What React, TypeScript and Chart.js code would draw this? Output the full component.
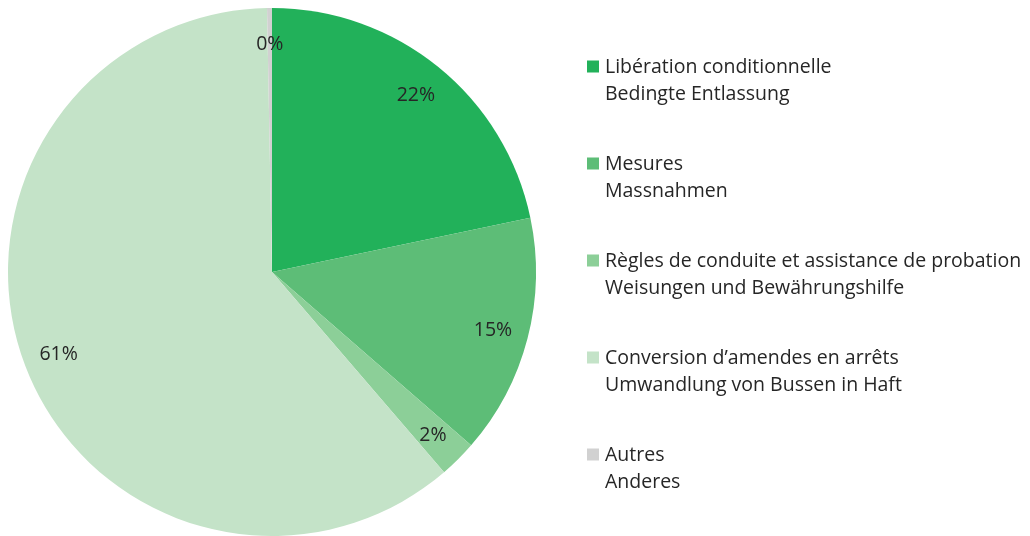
import React, { useEffect, useRef } from "react";
import { Chart, registerables } from "chart.js";

Chart.register(...registerables);

const frLabels = [
  "Libération conditionnelle",
  "Mesures",
  "Règles de conduite et assistance de probation",
  "Conversion d’amendes en arrêts",
  "Autres",
];
const deLabels = [
  "Bedingte Entlassung",
  "Massnahmen",
  "Weisungen und Bewährungshilfe",
  "Umwandlung von Bussen in Haft",
  "Anderes",
];
const shares = [21.7, 14.7, 2.3, 61.0, 0.3];
const colors = ["#22b15a", "#5dbd77", "#8ccf98", "#c4e3c8", "#d1d1d1"];

const FONT = "'Open Sans', Lato, sans-serif";
const TEXT = "#262626";

const overlayPlugin = {
  id: "overlay",
  afterDraw(chart: any) {
    const ctx = chart.ctx as CanvasRenderingContext2D;
    const meta = chart.getDatasetMeta(0);
    ctx.save();
    ctx.fillStyle = TEXT;
    ctx.textAlign = "center";
    ctx.textBaseline = "middle";
    ctx.font = `19.5px ${FONT}`;
    meta.data.forEach((arc: any, i: number) => {
      const p = arc.getProps(["x", "y", "startAngle", "endAngle", "outerRadius"], true);
      const mid = (p.startAngle + p.endAngle) / 2;
      const r = p.outerRadius * 0.865;
      const label = Math.round(shares[i]) + "%";
      ctx.fillText(label, p.x + Math.cos(mid) * r, p.y + Math.sin(mid) * r + 1);
    });

    // legend
    const boxX = 587;
    const textX = 605;
    const firstY = 67.5;
    const step = 97;
    const gap = 26.5;
    ctx.textAlign = "left";
    ctx.font = `19.5px ${FONT}`;
    frLabels.forEach((fr, i) => {
      const y = firstY + i * step;
      ctx.fillStyle = colors[i];
      ctx.fillRect(boxX, y - 7, 12, 12);
      ctx.fillStyle = TEXT;
      ctx.fillText(fr, textX, y);
      ctx.fillText(deLabels[i], textX, y + gap);
    });
    ctx.restore();
  },
};

export default function App() {
  const ref = useRef<HTMLCanvasElement>(null);
  useEffect(() => {
    if (!ref.current) return;
    const chart = new Chart(ref.current, {
      type: "pie",
      data: {
        labels: frLabels,
        datasets: [
          {
            data: shares,
            backgroundColor: colors,
            borderWidth: 0,
          },
        ],
      },
      options: {
        animation: false,
        responsive: false,
        layout: { padding: { left: 8, top: 8, bottom: 0, right: 494 } },
        plugins: {
          legend: { display: false },
          tooltip: { enabled: false },
        },
      },
      plugins: [overlayPlugin],
    });
    return () => chart.destroy();
  }, []);
  return (
    <div style={{ position: "absolute", left: 0, top: 0, width: 1030, height: 536, background: "#fff" }}>
      <canvas ref={ref} width={1030} height={536} style={{ width: 1030, height: 536 }} />
    </div>
  );
}
